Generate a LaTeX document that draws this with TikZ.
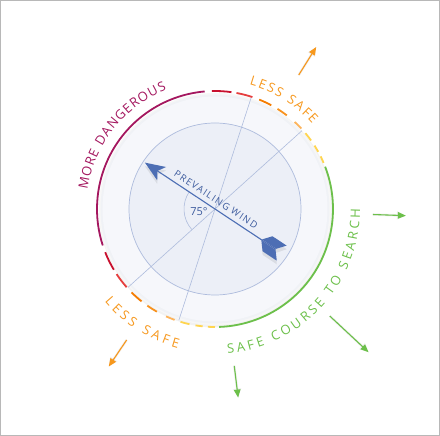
\documentclass[tikz,border=0pt]{standalone}
\usepackage{fontspec}
\setmainfont{Open Sans}
\newfontfamily\spacedfont[LetterSpace=14]{Open Sans}
\usetikzlibrary{decorations.text,arrows.meta}
\definecolor{cpurple}{HTML}{A4175F}
\definecolor{cdred}{HTML}{C8102E}
\definecolor{cred}{HTML}{E53E3E}
\definecolor{corA}{HTML}{F57C00}
\definecolor{corB}{HTML}{F8921E}
\definecolor{clor}{HTML}{FDB45C}
\definecolor{cyel}{HTML}{FFD54F}
\definecolor{cgreen}{HTML}{6CC04A}
\definecolor{corange}{HTML}{F7981D}
\definecolor{windblue}{HTML}{4D6EB4}
\definecolor{txtblue}{HTML}{3E5C9E}
\definecolor{guideblue}{HTML}{AEBCDD}
\definecolor{innerfill}{HTML}{ECEFF7}
\definecolor{outerfill}{HTML}{F6F7FB}
\definecolor{rimfill}{HTML}{F0F2F6}
\newcommand\arcfont{\fontsize{13}{13}\selectfont}
\begin{document}
\begin{tikzpicture}[x=1pt,y=1pt,
  periarrow/.style={line width=1.1pt,-{Triangle[length=8pt,width=6.5pt]}},
  arrowshadow/.style={line width=2.5pt,draw=black,opacity=0.06,-{Triangle[length=9pt,width=8pt]}},
  arcband/.style={line width=1.8pt},
  guide/.style={draw=guideblue,line width=0.6pt},
]
\useasboundingbox (-215,-227) rectangle (225,209);
\fill[white] (-215,-227) rectangle (225,209);
\draw[black!28,line width=1pt] (-214.5,-226.5) rectangle (224.5,208.5);

% outer pale disc with soft rim
\fill[black!5] (1,-1.5) circle (117pt);
\fill[black!3] (0,0) circle (116pt);
\fill[rimfill] (0,0) circle (114.5pt);
\fill[outerfill] (0,0) circle (112.5pt);

% inner disc
\fill[innerfill] (0,0) circle (86pt);
\draw[guideblue,line width=0.7pt] (0,0) circle (86pt);

% guide lines
\coordinate (l1a) at (72:117pt);
\coordinate (l1b) at (252:117pt);
\coordinate (l2a) at (42:117pt);
\coordinate (l2b) at (222:117pt);
\draw[guide] (l1a) -- (l1b);
\draw[guide] (l2a) -- (l2b);
\draw[guide] (146.5:31pt) arc[start angle=146.5,end angle=221.5,radius=31pt];
\node[text=txtblue,font=\fontsize{11}{11}\selectfont,inner sep=0pt] (ang) at (-16,-3) {75°};

% coloured ring
\draw[arcband,cpurple] (95:118pt) arc[start angle=95,end angle=198,radius=118pt];
\draw[arcband,cgreen] (21:118pt) arc[start angle=21,end angle=-88,radius=118pt];
\foreach \a/\b/\c in {91.5/82/cdred,79.5/71.5/cred,68/61.5/corA,58/52.5/corB,47.5/43/clor,40/35.5/cyel,32.5/29/cyel,26.5/23/cyel}{
  \draw[arcband,draw=\c] (\a:118pt) arc[start angle=\a,end angle=\b,radius=118pt];
  \pgfmathsetmacro\aa{293-\a}
  \pgfmathsetmacro\bb{293-\b}
  \draw[arcband,draw=\c] (\aa:118pt) arc[start angle=\aa,end angle=\bb,radius=118pt];
}

% wind arrow
\begin{scope}[rotate=-33.5]
  \begin{scope}[shift={(2,-3)},opacity=0.08]
    \fill[black] (-84,0) -- (-64,8) -- (-69,0) -- (-64,-8) -- cycle;
    \fill[black] (56,0) -- (63,9) -- (80,9) -- (73,0) -- (80,-9) -- (63,-9) -- cycle;
  \end{scope}
  \coordinate (head) at (-69,0);
  \coordinate (tail) at (73,0);
  \draw[windblue,line width=1.1pt] (head) -- (tail);
  \fill[windblue] (-84,0) -- (-64,8) -- (-69,0) -- (-64,-8) -- cycle;
  \fill[windblue] (56,0.6) -- (63,9) -- (80,9) -- (73,0.6) -- cycle;
  \fill[windblue] (56,-0.6) -- (63,-9) -- (80,-9) -- (73,-0.6) -- cycle;
  \node[rotate=-33.5,text=txtblue,font=\spacedfont\fontsize{9.5}{10}\selectfont,inner sep=0pt] (pw) at (-4.5,8.5) {PREVAILING WIND};
\end{scope}

% radial arrows
\foreach \ang/\ra/\rb/\col [count=\i] in {58/158/191/corange,236/158/190/corange,-83/158/190/cgreen,-43/157/210/cgreen,-2/158/191/cgreen}{
  \coordinate (pa\i) at (\ang:\ra pt);
  \coordinate (pb\i) at (\ang:\rb pt);
  \draw[arrowshadow,shift={(2,-3.5)}] (pa\i) -- (pb\i);
  \draw[periarrow,draw=\col,fill=\col] (pa\i) -- (pb\i);
}

% arc texts
\path[decorate,decoration={text along path,text align=fit to path,
  text={|\arcfont\color{cpurple}|MORE DANGEROUS}}]
  (171.5:129pt) arc[start angle=171.5,end angle=112,radius=129pt];
\path[decorate,decoration={text along path,text align=fit to path,
  text={|\arcfont\color{corange}|LESS SAFE}}]
  (74.5:129pt) arc[start angle=74.5,end angle=41,radius=129pt];
\path[decorate,decoration={text along path,text align=fit to path,
  text={|\arcfont\color{corange}|LESS SAFE}}]
  (220:144pt) arc[start angle=220,end angle=255,radius=144pt];
\path[decorate,decoration={text along path,text align=fit to path,
  text={|\arcfont\color{cgreen}|SAFE COURSE TO SEARCH}}]
  (-85:145pt) arc[start angle=-85,end angle=0,radius=145pt];
\end{tikzpicture}
\end{document}
